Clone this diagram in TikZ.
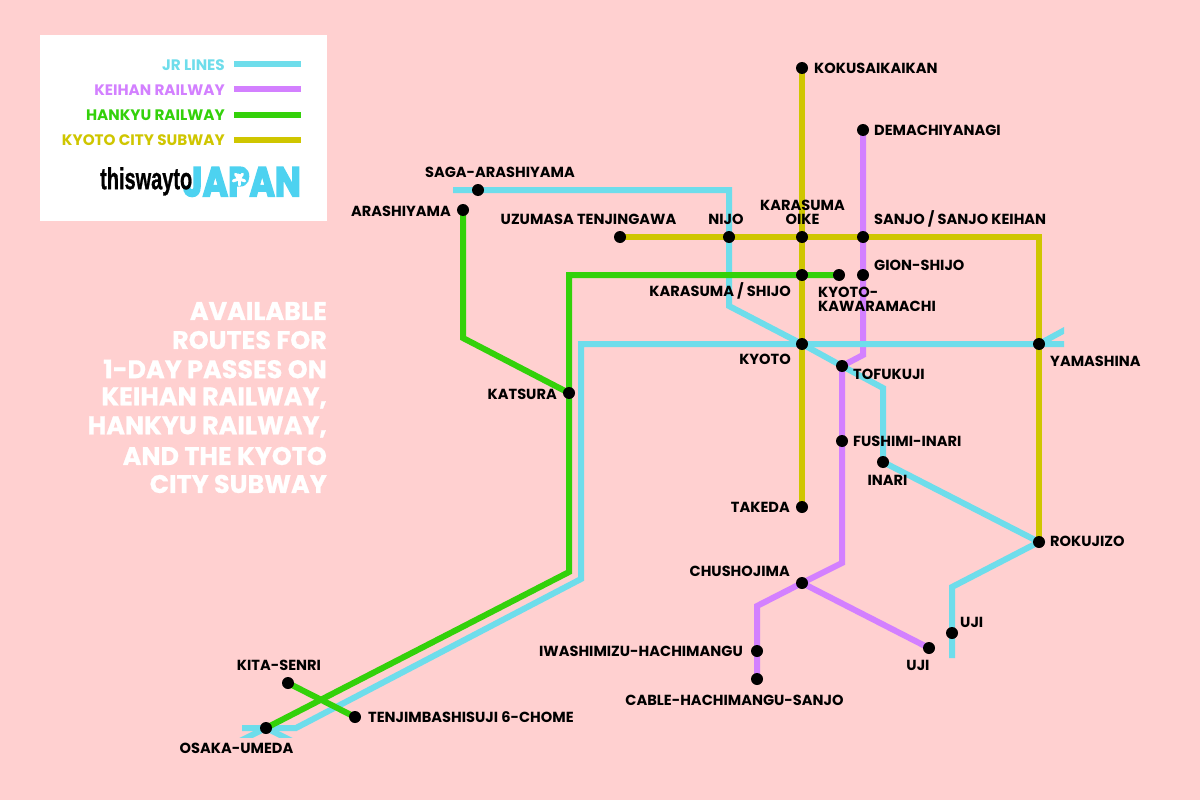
\documentclass[tikz,border=0pt]{standalone}
\usepackage{graphicx}
\usepackage{fontspec}
\setmainfont{Poppins}
\newfontfamily\logofont[BoldFeatures={FakeBold=1}]{Liberation Sans}
\newfontfamily\japanfont[BoldFeatures={FakeBold=4}]{Poppins}
\newfontfamily\headfont[BoldFeatures={FakeBold=0.8}]{Poppins}

\definecolor{bgpink}{HTML}{FFD0D0}
\definecolor{jrcol}{HTML}{6EDDEB}
\definecolor{keihancol}{HTML}{D380FF}
\definecolor{hankyucol}{HTML}{33D10A}
\definecolor{subwaycol}{HTML}{CFC600}
\definecolor{logocol}{HTML}{4DD2F0}

\tikzset{
  stn/.style={circle, fill=black, inner sep=0pt, minimum size=12pt},
  lbl/.style={inner sep=0pt, text=black, font=\fontsize{14.6}{14}\selectfont\bfseries, align=center},
  keytext/.style={inner sep=0pt, anchor=east, font=\fontsize{15.2}{16}\selectfont\bfseries},
  headtext/.style={inner sep=0pt, anchor=east, text=white, font=\headfont\fontsize{25.4}{28}\selectfont\bfseries},
  line/.style={line width=6pt, line join=miter}
}

\begin{document}
\begin{tikzpicture}[x=1pt, y=-1pt]
  \useasboundingbox (0,0) rectangle (1200,800);
  \fill[bgpink] (0,0) rectangle (1200,800);

  % legend
  \fill[white] (40,35) rectangle (327,221);
  \node[keytext, text=jrcol] (keyjr) at (225,65.5) {JR LINES};
  \node[keytext, text=keihancol] (keykeihan) at (225,90.5) {KEIHAN RAILWAY};
  \node[keytext, text=hankyucol] (keyhankyu) at (225,115.5) {HANKYU RAILWAY};
  \node[keytext, text=subwaycol] (keysubway) at (225,140.5) {KYOTO CITY SUBWAY};
  \draw[line, jrcol] (234,64.5) -- (301,64.5);
  \draw[line, keihancol] (234,89.5) -- (301,89.5);
  \draw[line, hankyucol] (234,114.5) -- (301,114.5);
  \draw[line, subwaycol] (234,139.5) -- (301,139.5);
  \node[inner sep=0pt, text=logocol, anchor=north east] (logojapan) at (301,167)
    {\resizebox{118pt}{29pt}{\japanfont\bfseries JAPAN}};
  \foreach \ang in {90,162,234,306,18}
    \draw[white, line width=3pt, line cap=round] (239,179) -- ++(\ang:6);
  \node[inner sep=0pt, anchor=north west] (logothis) at (100,167)
    {\resizebox{92pt}{22pt}{\logofont\bfseries thiswayto}};

  % heading
  \node[headtext] (head1) at (327,311) {AVAILABLE};
  \node[headtext] (head2) at (327,340) {ROUTES FOR};
  \node[headtext] (head3) at (327,369) {1-DAY PASSES ON};
  \node[headtext] (head4) at (327,398) {KEIHAN RAILWAY,};
  \node[headtext] (head5) at (327,427) {HANKYU RAILWAY,};
  \node[headtext] (head6) at (327,456) {AND THE KYOTO};
  \node[headtext] (head7) at (327,484) {CITY SUBWAY};

  % stations
  \coordinate (kokusai) at (802,68);
  \coordinate (demachi) at (863,130);
  \coordinate (saga) at (478,190);
  \coordinate (arashi) at (463,210);
  \coordinate (uzumasa) at (620,237);
  \coordinate (nijo) at (729,237);
  \coordinate (oike) at (802,237);
  \coordinate (sanjo) at (863,237);
  \coordinate (shijo) at (802,275);
  \coordinate (kawara) at (839,275);
  \coordinate (gion) at (863,275);
  \coordinate (kyoto) at (802,344);
  \coordinate (tofu) at (842,366);
  \coordinate (yama) at (1039,344);
  \coordinate (katsura) at (569,393);
  \coordinate (fushimi) at (842,441);
  \coordinate (inari) at (883,462);
  \coordinate (takeda) at (802,507);
  \coordinate (roku) at (1039,542);
  \coordinate (chusho) at (802,583);
  \coordinate (iwashi) at (757,651);
  \coordinate (cable) at (757,679);
  \coordinate (ujikei) at (929,648);
  \coordinate (ujijr) at (952,633);
  \coordinate (kita) at (288,683);
  \coordinate (tenjim) at (355,717);
  \coordinate (umeda) at (266,728);

  % keihan
  \draw[line, keihancol] (demachi) -- (863,355) -- (tofu) -- (842,563) -- (chusho) -- (757,606) -- (cable);
  \draw[line, keihancol] (chusho) -- (ujikei);

  % jr
  \begin{scope}
    \clip (230,720) rectangle (300,737.5);
    \draw[line, jrcol] (umeda) -- (236,743);
    \draw[line, jrcol] (umeda) -- (296,743);
  \end{scope}
  \begin{scope}
    \clip (1030,320) rectangle (1064,350);
    \draw[line, jrcol] (yama) -- (1074,325);
  \end{scope}
  \draw[line, jrcol] (453,190) -- (saga) -- (729,190) -- (nijo) -- (729,306) -- (kyoto) -- (tofu) -- (883,388) -- (inari) -- (roku) -- (952,587) -- (ujijr) -- (952,658);
  \draw[line, jrcol] (1064,344) -- (yama) -- (kyoto) -- (581,344) -- (581,579) -- (296,728) -- (umeda) -- (242,728);

  % subway
  \draw[line, subwaycol] (kokusai) -- (oike) -- (shijo) -- (kyoto) -- (takeda);
  \draw[line, subwaycol] (uzumasa) -- (nijo) -- (oike) -- (sanjo) -- (1039,237) -- (yama) -- (roku);

  % hankyu
  \draw[line, hankyucol] (arashi) -- (463,338) -- (katsura);
  \draw[line, hankyucol] (kawara) -- (shijo) -- (569,275) -- (katsura) -- (569,572) -- (umeda);
  \draw[line, hankyucol] (kita) -- (tenjim);

  \foreach \stname in {kokusai,demachi,saga,arashi,uzumasa,nijo,oike,sanjo,shijo,kawara,gion,kyoto,tofu,yama,katsura,fushimi,inari,takeda,roku,chusho,iwashi,cable,ujikei,ujijr,kita,tenjim,umeda}
    \node[stn] (\stname dot) at (\stname) {};

  % station names
  \node[lbl, anchor=west] (tkokusai) at (814,68) {KOKUSAIKAIKAN};
  \node[lbl, anchor=west] (tdemachi) at (874,130) {DEMACHIYANAGI};
  \node[lbl] (tsaga) at (500,172) {SAGA-ARASHIYAMA};
  \node[lbl, anchor=east] (tarashi) at (451,211) {ARASHIYAMA};
  \node[lbl] (tuzumasa) at (588.5,219) {UZUMASA TENJINGAWA};
  \node[lbl] (tnijo) at (726,219) {NIJO};
  \node[lbl] (toike) at (802.5,212) {KARASUMA\\OIKE};
  \node[lbl, anchor=west] (tsanjo) at (874,219) {SANJO / SANJO KEIHAN};
  \node[lbl, anchor=west] (tgion) at (874,265) {GION-SHIJO};
  \node[lbl, anchor=east] (tshijo) at (791,291) {KARASUMA / SHIJO};
  \node[lbl, anchor=west, align=left] (tkawara) at (818,299) {KYOTO-\\KAWARAMACHI};
  \node[lbl, anchor=east] (tkyoto) at (791,359) {KYOTO};
  \node[lbl, anchor=west] (ttofu) at (853,374) {TOFUKUJI};
  \node[lbl, anchor=west] (tyama) at (1050,361) {YAMASHINA};
  \node[lbl, anchor=east] (tkatsura) at (557,394) {KATSURA};
  \node[lbl, anchor=west] (tfushimi) at (853,441) {FUSHIMI-INARI};
  \node[lbl] (tinari) at (887.5,480) {INARI};
  \node[lbl, anchor=east] (ttakeda) at (790,507) {TAKEDA};
  \node[lbl, anchor=west] (troku) at (1050,541) {ROKUJIZO};
  \node[lbl, anchor=east] (tchusho) at (790,571) {CHUSHOJIMA};
  \node[lbl, anchor=east] (tiwashi) at (743,651) {IWASHIMIZU-HACHIMANGU};
  \node[lbl] (tcable) at (734.5,700) {CABLE-HACHIMANGU-SANJO};
  \node[lbl] (tujikei) at (918,665) {UJI};
  \node[lbl, anchor=west] (tujijr) at (960,622) {UJI};
  \node[lbl] (tkita) at (279,665) {KITA-SENRI};
  \node[lbl, anchor=west] (ttenjim) at (368,717) {TENJIMBASHISUJI 6-CHOME};
  \node[lbl] (tumeda) at (236.5,748) {OSAKA-UMEDA};
\end{tikzpicture}
\end{document}
